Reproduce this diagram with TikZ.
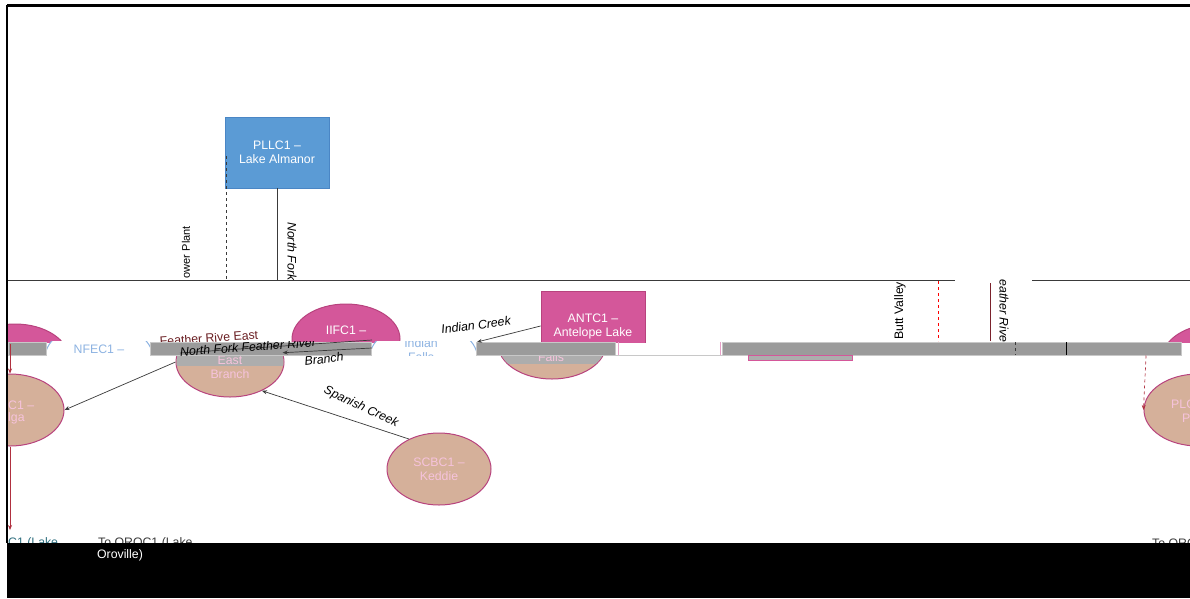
\documentclass[tikz,border=0pt]{standalone}
\usepackage{fontspec}
\setmainfont{Liberation Sans}
\usetikzlibrary{shapes.geometric,arrows.meta}
\definecolor{mag}{HTML}{D4579A}
\definecolor{magb}{HTML}{B8437E}
\definecolor{tanc}{HTML}{D5B09A}
\definecolor{pinkt}{HTML}{F6C3DC}
\definecolor{barg}{HTML}{9B9B9B}
\definecolor{barb}{HTML}{C8C8C8}
\definecolor{lbarg}{HTML}{ADADAD}
\definecolor{boxblue}{HTML}{5B9BD5}
\definecolor{boxblueb}{HTML}{4A86C5}
\definecolor{lblue}{HTML}{8DB3E2}
\definecolor{linec}{HTML}{3A3A3A}
\definecolor{redl}{HTML}{B0303F}
\definecolor{darkred}{HTML}{6A1E22}
\definecolor{teall}{HTML}{2F6F7F}
\definecolor{pinkl}{HTML}{E8A0C8}
\begin{document}
\begin{tikzpicture}[x=1pt,y=-1pt,
  txt/.style={font=\fontsize{12.3}{14}\selectfont, inner sep=0pt, align=center},
  itl/.style={font=\fontsize{12.3}{14}\selectfont\itshape, inner sep=0pt, align=center},
  ell/.style={ellipse, inner sep=0pt, minimum width=108pt, minimum height=70pt, line width=1pt},
  magell/.style={ell, fill=mag, draw=magb},
  tanell/.style={ell, fill=tanc, draw=magb},
  blueell/.style={ell, fill=white, draw=lblue},
  bluebox/.style={rectangle, fill=boxblue, draw=boxblueb, line width=0.8pt, minimum width=104pt, minimum height=71pt, txt, text=white},
  magbox/.style={rectangle, fill=mag, draw=magb, line width=0.8pt, minimum width=104pt, minimum height=70pt, txt, text=white},
  bar/.style={fill=barg, draw=barb, line width=0.6pt},
  conn/.style={draw=linec, line width=0.7pt},
  arr/.style={conn, -{Stealth[length=5pt,width=4pt]}}]
\fill[white] (0,0) rectangle (1190,598);
\useasboundingbox (0,0) rectangle (1190,598);

% ---------- upper panel ----------
\begin{scope}
\clip (8,6) rectangle (1190,279.5);
\node[bluebox] (pllc) at (277,152.5) {PLLC1 --\\Lake Almanor};
\coordinate (ppA) at (226,156);
\coordinate (ppB) at (226,279.5);
\draw[conn, dashed] (ppA) -- (ppB);
\coordinate (nfB) at (277,279.5);
\draw[conn] (pllc.south) -- (nfB);
\node[txt, font=\fontsize{11}{13}\selectfont, rotate=90, anchor=east] (pwr) at (186,226) {ower Plant};
\node[itl, rotate=-90, anchor=west] (nfk) at (292,222) {North Fork F};
\end{scope}
\coordinate (tl0) at (8,280);
\coordinate (tl1) at (955,280);
\coordinate (tl2) at (1032,280);
\coordinate (tl3) at (1190,280);
\draw[linec, line width=0.8pt] (tl0) -- (tl1);
\draw[linec, line width=0.8pt] (tl2) -- (tl3);

% ---------- magenta tops (above bar) ----------
\begin{scope}
\clip (8,281) rectangle (1190,342);
\node[magell] (mL) at (15,359) {};
\node[magell] (iifc) at (346,339) {};
\node[magell] (mR) at (1216,359) {};
\node[magbox] (antc) at (593,326) {ANTC1 --\\Antelope Lake};
\end{scope}
\node[txt, text=white] (iifct) at (346,330) {IIFC1 --};

% ---------- tan ellipses (below bar) ----------
\begin{scope}
\clip (8,342) rectangle (1190,543);
\node[tanell] (ebfc) at (230,362) {};
\node[tanell] (falls) at (552,344) {};
\node[tanell, minimum height=72pt] (lT) at (10,410) {};
\node[tanell, minimum height=72pt] (rT) at (1198,410) {};
\end{scope}
\begin{scope}
\clip (230,362) ellipse [x radius=53.5, y radius=34.5];
\fill[lbarg] (150,355) rectangle (300,366);
\end{scope}
\begin{scope}
\clip (552,344) ellipse [x radius=53.5, y radius=34.5];
\fill[lbarg] (480,355) rectangle (620,364);
\end{scope}
\node[txt, text=pinkt] (ebft) at (230,367) {East\\Branch};
\node[txt, text=pinkt] (fallt) at (551,357) {Falls};
\node[txt, text=pinkt, anchor=west] (lTa) at (8,405) {C1 --};
\node[txt, text=pinkt, anchor=west] (lTb) at (8,418) {lga};
\node[txt, text=pinkt, anchor=west] (rTa) at (1171,404) {PLC};
\node[txt, text=pinkt, anchor=west] (rTb) at (1182,418) {P};
\node[tanell, minimum width=104pt, minimum height=72pt, txt, text=pinkt] (scbc) at (439,469) {SCBC1 --\\Keddie};

% ---------- blue ellipses band ----------
\begin{scope}
\clip (8,341.5) rectangle (1190,355.5);
\node[blueell] (nfec) at (99,358) {};
\node[blueell] (indf) at (423.5,358) {};
\node[txt, text=lblue] (nfect) at (99,349) {NFEC1 --};
\node[txt, text=lblue] (indft) at (421,350.5) {Indian\\Falls};
\end{scope}

% label partly under bar
\node[txt, text=darkred, rotate=4] (fre) at (209,338) {Feather Rive East};

% ---------- bars ----------
\draw[bar] (8,342) rectangle (46,355.5);
\draw[bar] (150,342) rectangle (371,355.5);
\draw[bar] (476,342) rectangle (615,355.5);
\draw[bar] (722,342) rectangle (1181,355.5);
\coordinate (gl0) at (615,355.5);
\coordinate (gl1) at (722,355.5);
\draw[barb, line width=0.6pt] (gl0) -- (gl1);
\draw[fill=lbarg, draw=mag, line width=0.6pt] (748,355.5) rectangle (852,360);
\coordinate (tk0) at (1015,342);
\coordinate (tk1) at (1015,355);
\draw[linec, dashed, line width=0.7pt] (tk0) -- (tk1);
\coordinate (tk2) at (1066,342);
\coordinate (tk3) at (1066,355);
\draw[black, line width=0.8pt] (tk2) -- (tk3);
\coordinate (pk0) at (618,342);
\coordinate (pk1) at (618,355);
\draw[pinkl, line width=0.8pt] (pk0) -- (pk1);
\coordinate (pk2) at (720,342);
\coordinate (pk3) at (720,355);
\draw[pinkl, line width=0.8pt] (pk2) -- (pk3);

% ---------- connectors ----------
\coordinate (nfa) at (180,353);
\coordinate (nfb) at (372,340);
\draw[conn] (nfa) -- (nfb);
\begin{scope}
\clip (150,341) rectangle (330,356);
\node[itl, rotate=4] (nfr) at (248,347) {North Fork Feather River};
\end{scope}
\coordinate (bra) at (372,348);
\draw[arr] (bra) -- (ebfc.10);
\node[itl, rotate=7] (brl) at (324,359) {Branch};
\coordinate (icb) at (477,342);
\draw[arr] (antc.west) -- (icb);
\node[itl, rotate=7] (icl) at (476,325) {Indian Creek};
\draw[arr] (scbc.135) -- (ebfc.-42);
\node[itl, rotate=-25] (scl) at (361,407) {Spanish Creek};
\draw[arr] (ebfc.180) -- (lT.east);
\coordinate (rv0) at (10,344);
\draw[arr, draw=redl] (rv0) -- (lT.north);
\coordinate (rv1) at (10,530);
\draw[arr, draw=redl] (lT.south) -- (rv1);
\coordinate (rd0) at (1146,355.5);
\draw[arr, draw=redl, dashed] (rd0) -- (rT.west);
\coordinate (bv0) at (938,281);
\coordinate (bv1) at (938,341);
\draw[red, dashed, line width=0.8pt] (bv0) -- (bv1);
\node[txt, rotate=90, anchor=west] (bvl) at (900,340) {Butt Valley};
\coordinate (fr0) at (990,283);
\coordinate (fr1) at (990,341);
\draw[redl!70!black, line width=0.8pt] (fr0) -- (fr1);
\node[itl, rotate=-90] (frl) at (1004,311) {eather Rive};

% ---------- bottom ----------
\node[txt, text=teall, anchor=west] (orA) at (8,543) {C1 (Lake};
\node[txt, text=linec, anchor=west] (orB) at (98,543) {To OROC1 (Lake};
\node[txt, text=linec, anchor=west] (orC) at (1152,543) {To ORO};
\fill[black] (7,543) rectangle (1190,598);
\node[txt, text=white] (orD) at (120,555) {Oroville)};

% ---------- frame ----------
\coordinate (fr_a) at (7,5);
\coordinate (fr_b) at (1190,5);
\coordinate (fr_c) at (7,543);
\draw[black, line width=3pt] (fr_a) -- (fr_b);
\draw[black, line width=2.5pt] (fr_a) -- (fr_c);
\end{tikzpicture}
\end{document}
